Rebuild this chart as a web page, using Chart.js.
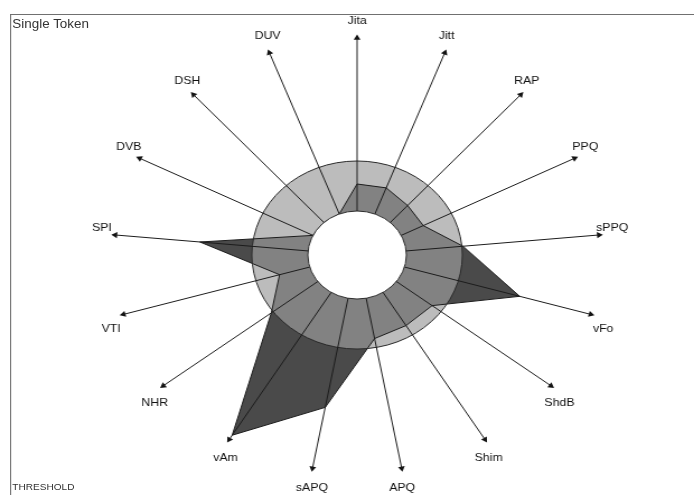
<!DOCTYPE html>
<html>
<head>
<meta charset="utf-8">
<title>MDVP radial graph</title>
<script src="https://cdn.jsdelivr.net/npm/chart.js@4.4.1/dist/chart.umd.min.js"></script>
<style>
  html, body { margin: 0; padding: 0; background: #fff; overflow: hidden; }
  /* the original screenshot is stretched horizontally, so the whole stage is too */
  #stage { position: absolute; left: 0; top: 0; width: 620px; height: 495px; transform: scaleX(1.1194); transform-origin: 0 0; }
  #frame { position: absolute; left: 9px; top: 14px; right: -20px; bottom: -20px; border-left: 1px solid #707070; border-top: 1px solid #707070; }
  .caption { position: absolute; left: 11px; font-family: "Liberation Sans", Arial, sans-serif; color: #333; white-space: nowrap; }
  #token { top: 17px; font-size: 12px; }
  #threshold { top: 482px; font-size: 9px; }
  #radial { position: absolute; left: 0; top: 0; }
</style>
</head>
<body>
<div id="stage">
  <div id="frame"></div>
  <div class="caption" id="token">Single Token</div>
  <div class="caption" id="threshold">THRESHOLD</div>
  <canvas id="radial" width="620" height="495"></canvas>
</div>
<script>
const PARAMS = ["Jita", "Jitt", "RAP", "PPQ", "sPPQ", "vFo", "ShdB", "Shim", "APQ",
	"sAPQ", "vAm", "NHR", "VTI", "SPI", "DVB", "DSH", "DUV"];
// normalised: 0 = inner circle, 1 = threshold ring
const PATIENT = [0.54, 0.56, 0.46, 0.44, 1.02, 2.14, 0.80, 0.78, 0.82,
	2.22, 3.36, 1.04, 0.56, 1.94, 0, 0, 0];
const THRESHOLD = [1, 1, 1, 1, 1, 1, 1, 1, 1, 1, 1, 1, 1, 1, 1, 1, 1];
const THRESHOLD_LEVEL = 1;
const AXIS_MIN = -0.88;
const AXIS_MAX = 3.46;

const LIGHT = "#bcbcbc";
const MID = "#828282";
const DARK = "#4a4a4a";
const LINE = "#1c1c1c";

Chart.defaults.font.family = '"Liberation Sans", Arial, sans-serif';

// medium grey inside the threshold ring, dark grey outside it
function zoneFill(context) {
	const s = context.chart.scales.r;
	if (!s || !s.drawingArea) return MID;
	const t = s.getDistanceFromCenterForValue(THRESHOLD_LEVEL) / s.drawingArea;
	const g = context.chart.ctx.createRadialGradient(s.xCenter, s.yCenter, 0, s.xCenter, s.yCenter, s.drawingArea);
	g.addColorStop(0, MID);
	g.addColorStop(t, MID);
	g.addColorStop(t, DARK);
	g.addColorStop(1, DARK);
	return g;
}

const axisLabels = {
	id: "axisLabels",
	afterDraw(chart) {
		const s = chart.scales.r;
		const ctx = chart.ctx;
		ctx.save();
		ctx.font = '11px "Liberation Sans", Arial, sans-serif';
		ctx.fillStyle = "#111";
		ctx.textAlign = "center";
		ctx.textBaseline = "middle";
		PARAMS.forEach((name, i) => {
			const p = s.getPointPositionForValue(i, AXIS_MAX);
			const a = p.angle + Math.PI / 2;
			const up = Math.cos(a);
			const side = Math.sin(a);
			const dy = up > 0 ? -(6 + 11 * up) : 12 + 8 * -up;
			ctx.fillText(name, p.x + 12 * side * Math.abs(side), p.y + dy);
		});
		ctx.restore();
	},
};

const arrowRotation = PARAMS.map((_, i) => (i * 360) / PARAMS.length);

new Chart(document.getElementById("radial"), {
	type: "radar",
	data: {
		labels: PARAMS,
		datasets: [
			{
				label: "axes",
				data: PARAMS.map(() => AXIS_MAX),
				showLine: false,
				fill: false,
				clip: false,
				pointStyle: "triangle",
				pointRadius: 3.5,
				pointRotation: arrowRotation,
				pointBackgroundColor: "#111",
				pointBorderWidth: 0,
				order: 1,
			},
			{
				label: "Single Token",
				data: PATIENT,
				fill: true,
				backgroundColor: zoneFill,
				borderColor: LINE,
				borderWidth: 1,
				pointRadius: 0,
				order: 2,
			},
			{
				label: "THRESHOLD",
				data: THRESHOLD,
				fill: true,
				tension: 0.34,
				backgroundColor: LIGHT,
				borderWidth: 0,
				pointRadius: 0,
				order: 3,
			},
		],
	},
	options: {
		responsive: false,
		animation: false,
		events: [],
		layout: { padding: { top: 38, bottom: 23, left: 102, right: 84 } },
		plugins: { legend: { display: false }, tooltip: { enabled: false } },
		scales: {
			r: {
				min: AXIS_MIN,
				max: AXIS_MAX,
				ticks: { display: false },
				pointLabels: { display: false },
				angleLines: { color: LINE, lineWidth: 1 },
				afterBuildTicks: (s) => {
					s.ticks = [{ value: AXIS_MIN }, { value: THRESHOLD_LEVEL }];
				},
				grid: {
					z: 1,
					circular: true,
					color: "#2a2a2a",
					lineWidth: (c) => (c.tick && c.tick.value === THRESHOLD_LEVEL ? 1 : 0),
				},
			},
			rHole: {
				type: "radialLinear",
				axis: "r",
				min: AXIS_MIN,
				max: AXIS_MAX,
				ticks: { display: false },
				pointLabels: { display: false },
				angleLines: { display: false },
				afterBuildTicks: (s) => {
					s.ticks = [{ value: AXIS_MIN }, { value: AXIS_MIN / 2 }, { value: 0 }];
				},
				grid: {
					z: 2,
					circular: true,
					color: (c) => (c.tick && c.tick.value === 0 ? "#2a2a2a" : "#ffffff"),
					lineWidth: (c) => {
						if (!c.tick || c.tick.value === AXIS_MIN) return 0;
						if (c.tick.value === 0) return 1;
						return c.scale.getDistanceFromCenterForValue(0);
					},
				},
			},
		},
	},
	plugins: [axisLabels],
});
</script>
</body>
</html>
